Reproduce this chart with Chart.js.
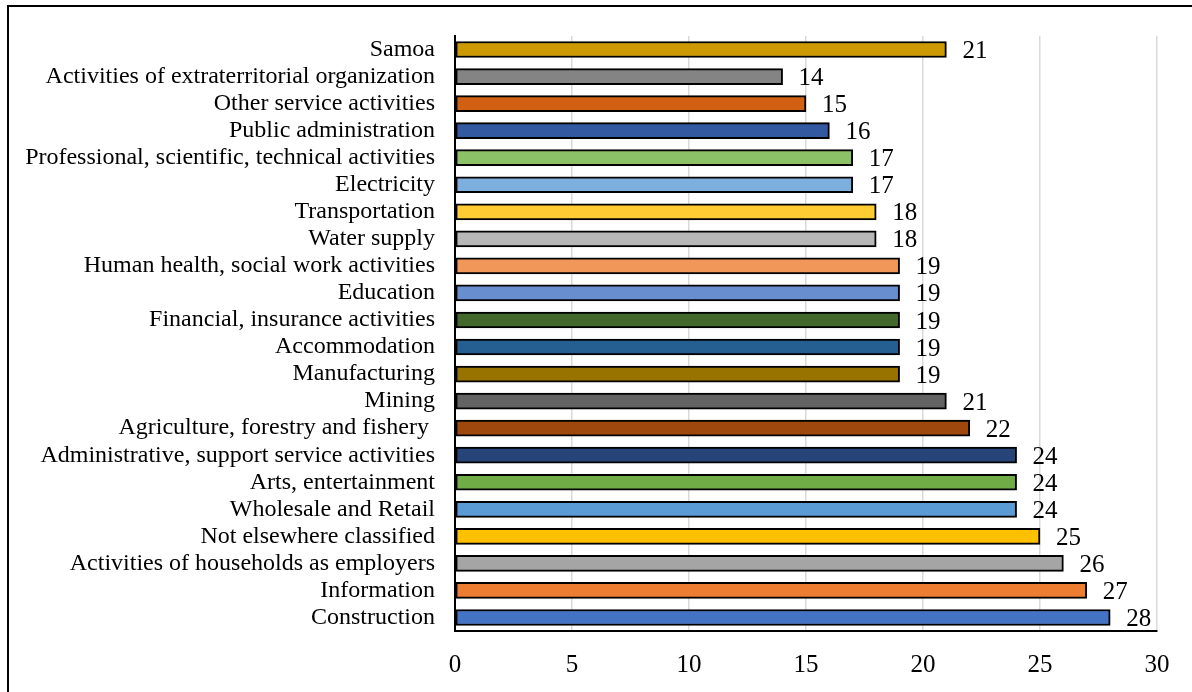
<!DOCTYPE html>
<html>
<head>
<meta charset="utf-8">
<title>Sectors</title>
<script src="https://cdn.jsdelivr.net/npm/chart.js@4.4.1/dist/chart.umd.min.js"></script>
<style>
  html, body { margin: 0; padding: 0; background: #fff; overflow: hidden; }
  #frame {
    position: absolute; left: 7px; top: 5px; width: 1400px; height: 900px;
    border-left: 2px solid #000; border-top: 2px solid #000;
  }
  #chart { position: absolute; left: 0; top: 0; }
</style>
</head>
<body>
<div id="frame"></div>
<canvas id="chart" width="1192" height="692"></canvas>
<script>
// sectors, listed top to bottom
const sectors = [
  "Samoa",
  "Activities of extraterritorial organization",
  "Other service activities",
  "Public administration",
  "Professional, scientific, technical activities",
  "Electricity",
  "Transportation",
  "Water supply",
  "Human health, social work activities",
  "Education",
  "Financial, insurance activities",
  "Accommodation",
  "Manufacturing",
  "Mining",
  "Agriculture, forestry and fishery ",
  "Administrative, support service activities",
  "Arts, entertainment",
  "Wholesale and Retail",
  "Not elsewhere classified",
  "Activities of households as employers",
  "Information",
  "Construction"
];

const values = [21, 14, 15, 16, 17, 17, 18, 18, 19, 19, 19, 19, 19, 21, 22, 24, 24, 24, 25, 26, 27, 28];

const barColors = [
  "#CC9A00", "#848484", "#D26012", "#335AA1", "#8CC168", "#7CAFDD",
  "#FFCD33", "#B7B7B7", "#F1975A", "#698ED0", "#43682B", "#255E91",
  "#997300", "#636363", "#9E480E", "#264478", "#70AD47", "#5B9BD5",
  "#FFC000", "#A5A5A5", "#ED7D31", "#4472C4"
];

const xTicks = [0, 5, 10, 15, 20, 25, 30];

const serif = "'Liberation Serif', 'Times New Roman', serif";

// value written just past the end of each bar
const valueLabels = {
  id: "valueLabels",
  afterDatasetsDraw(chart) {
    const ctx = chart.ctx;
    const meta = chart.getDatasetMeta(0);
    ctx.save();
    ctx.font = "25px " + serif;
    ctx.fillStyle = "#000";
    ctx.textAlign = "left";
    ctx.textBaseline = "middle";
    meta.data.forEach((bar, i) => {
      ctx.fillText(String(values[i]), bar.x + 16, bar.y + 2);
    });
    ctx.restore();
  }
};

new Chart(document.getElementById("chart").getContext("2d"), {
  type: "bar",
  data: {
    labels: sectors,
    datasets: [{
      data: values,
      backgroundColor: barColors,
      borderColor: "#000",
      borderWidth: 2,
      borderSkipped: false,
      barThickness: 16
    }]
  },
  options: {
    indexAxis: "y",
    responsive: false,
    animation: false,
    layout: { padding: { left: 0, top: 36, right: 35, bottom: 0 } },
    plugins: {
      legend: { display: false },
      tooltip: { enabled: false }
    },
    scales: {
      x: {
        min: 0,
        max: 30,
        afterBuildTicks(scale) {
          scale.ticks = xTicks.map((v) => ({ value: v }));
        },
        afterFit(scale) { scale.height = 61; },
        grid: { color: "#D9D9D9", lineWidth: 1.5, drawTicks: false },
        border: { color: "#000", width: 2 },
        ticks: { color: "#000", padding: 19, font: { family: serif, size: 25 } }
      },
      y: {
        afterFit(scale) { scale.width = 455; },
        grid: { display: false, drawTicks: false },
        border: { color: "#000", width: 2 },
        ticks: { color: "#000", padding: 20, autoSkip: false, font: { family: serif, size: 24 } }
      }
    }
  },
  plugins: [valueLabels]
});
</script>
</body>
</html>
